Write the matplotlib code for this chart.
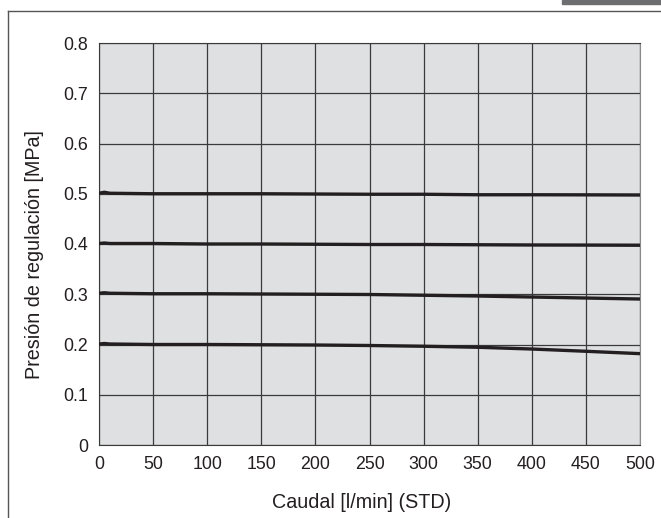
import matplotlib.pyplot as plt
from matplotlib.patches import Rectangle
from matplotlib.lines import Line2D

plt.rcParams['font.family'] = ['Liberation Sans', 'DejaVu Sans']

# flow [l/min] and regulated pressure [MPa] for each set point
flow = [0, 5, 10, 50, 100, 150, 200, 250, 300, 350, 400, 450, 500]
p_05 = [0.501, 0.503, 0.501, 0.500, 0.500, 0.500, 0.4995, 0.499, 0.499, 0.498, 0.498, 0.4978, 0.4975]
p_04 = [0.401, 0.402, 0.401, 0.401, 0.400, 0.400, 0.3995, 0.399, 0.399, 0.3985, 0.398, 0.3978, 0.3975]
p_03 = [0.302, 0.303, 0.302, 0.301, 0.301, 0.3005, 0.300, 0.2995, 0.298, 0.2965, 0.2945, 0.2925, 0.2905]
p_02 = [0.201, 0.202, 0.201, 0.200, 0.200, 0.1995, 0.199, 0.198, 0.1965, 0.1945, 0.191, 0.1865, 0.1818]

x_ticks = list(range(0, 501, 50))
y_ticks = [0, 0.1, 0.2, 0.3, 0.4, 0.5, 0.6, 0.7, 0.8]
y_labels = ['0', '0.1', '0.2', '0.3', '0.4', '0.5', '0.6', '0.7', '0.8']

fig = plt.figure(figsize=(6.61, 5.18), dpi=100)

# frame and tab of the catalogue page
fig.add_artist(Line2D([8 / 661, 8 / 661], [0, 1 - 11 / 518], color='#555555', lw=1.0))
fig.add_artist(Line2D([8 / 661, 1], [1 - 11 / 518, 1 - 11 / 518], color='#555555', lw=1.0))
fig.add_artist(Rectangle((562 / 661, 1 - 4 / 518), 99 / 661, 4 / 518, color='#6d6e70'))

ax = fig.add_axes([99 / 661, 73 / 518, 541 / 661, 402 / 518])
ax.set_facecolor('#dfe0e2')

for p in [p_05, p_04, p_03, p_02]:
    ax.plot(flow, p, color='#231f20', lw=2.4, solid_capstyle='butt', zorder=3)

ax.set_xlim(0, 500)
ax.set_ylim(0, 0.8)
ax.set_xticks(x_ticks)
ax.set_yticks(y_ticks)
ax.set_yticklabels(y_labels)
ax.grid(True, color='#3a3a3a', lw=0.9)
ax.set_axisbelow(True)
ax.tick_params(length=0, labelsize=12.8, colors='#231f20')
ax.tick_params(axis='x', pad=8)
ax.tick_params(axis='y', pad=8)
for s in ['left', 'bottom', 'top']:
    ax.spines[s].set_color('#3a3a3a')
ax.spines['right'].set_color('#8a8a8a')

ax.set_xlabel('Caudal [l/min] (STD)', fontsize=14.2, color='#231f20', va='center')
ax.xaxis.set_label_coords(0.486, -0.142)
ax.set_ylabel('Presión de regulación [MPa]', fontsize=14.2, color='#231f20', va='center')
ax.yaxis.set_label_coords(-0.120, 0.473)

fig.savefig('out.png', dpi=100)
